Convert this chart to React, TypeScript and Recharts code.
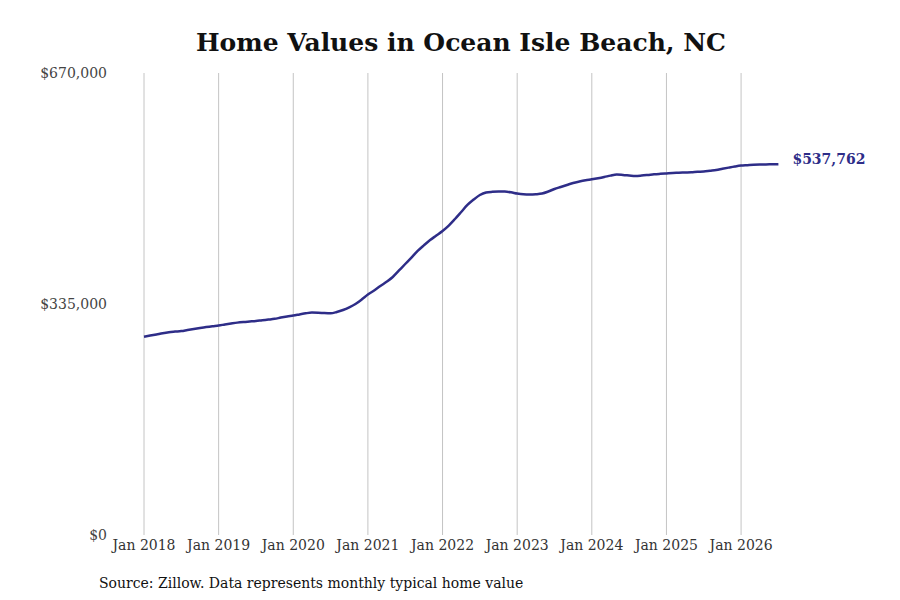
import { Line, LineChart, ReferenceLine, XAxis, YAxis } from 'recharts';

// monthly typical home value, Jan 2018 .. Jul 2026
const homeValues = [
  287600, 289200, 290900, 292700, 294100, 295000, 295800, 297300, 298700, 300200, 301600, 302800,
  303800, 305300, 306700, 308000, 308900, 309600, 310300, 311400, 312400, 313500, 315300, 316900,
  318300, 319900, 321500, 322500, 322400, 321800, 321500, 323400, 326300, 330200, 335000, 341500,
  348800, 354600, 361100, 367200, 374200, 383600, 393000, 402400, 411900, 420100, 427800, 434300,
  440900, 448800, 458300, 468400, 478600, 486500, 493100, 496700, 497700, 498100, 498000, 497000,
  495200, 494100, 493800, 494200, 495200, 498100, 501800, 504700, 507600, 510500, 512600, 514400,
  515800, 517400, 519200, 521200, 522800, 522200, 521400, 520600, 521200, 522100, 523100, 523800,
  524400, 525000, 525300, 525700, 526100, 526700, 527100, 528200, 529300, 531100, 532800, 534400,
  535700, 536300, 536900, 537300, 537400, 537600, 537762,
];

const tickMonths = [0, 12, 24, 36, 48, 60, 72, 84, 96];
const tickLabels = ['Jan 2018', 'Jan 2019', 'Jan 2020', 'Jan 2021', 'Jan 2022', 'Jan 2023', 'Jan 2024', 'Jan 2025', 'Jan 2026'];
const yTicks = [0, 335000, 670000];

const data = homeValues.map((value, m) => ({ m, value }));
const lastIndex = data.length - 1;

const FONT = '"DejaVu Serif", serif';
const LINE = '#2e2d88';

const money = (v: number) => '$' + v.toLocaleString('en-US');

const YTick = (props: any) => {
  const { y, payload } = props;
  return (
    <text x={107} y={y} dy={5} textAnchor="end" fill="#444" fontSize={14} fontFamily={FONT}>
      {money(payload.value)}
    </text>
  );
};

const EndLabel = (props: any) => {
  const { x, y, index } = props;
  if (index !== lastIndex) return null;
  return (
    <text x={x + 14} y={y} dy={0} fill={LINE} fontSize={14} fontWeight="bold" fontFamily={FONT}>
      {money(homeValues[lastIndex])}
    </text>
  );
};

export default function App() {
  return (
    <div style={{ position: 'absolute', left: 0, top: 0, width: 900, height: 600, background: '#fff', fontFamily: FONT }}>
      <div style={{ position: 'absolute', left: 0, top: 28, width: 922, textAlign: 'center', fontSize: 25, fontWeight: 'bold', color: '#111' }}>
        Home Values in Ocean Isle Beach, NC
      </div>
      <LineChart width={900} height={600} data={data} margin={{ top: 73, right: 121.6, bottom: 35, left: 0 }}>
        <XAxis
          dataKey="m"
          type="number"
          domain={[0, lastIndex]}
          ticks={tickMonths}
          tickFormatter={(m: number) => tickLabels[tickMonths.indexOf(m)]}
          axisLine={false}
          tickLine={false}
          height={30}
          dy={-3}
          tick={{ fill: '#333', fontSize: 14, fontFamily: FONT }}
          interval={0}
        />
        <YAxis
          domain={[0, 670000]}
          ticks={yTicks}
          width={144}
          axisLine={false}
          tickLine={false}
          tick={<YTick />}
        />
        {tickMonths.map((m) => (
          <ReferenceLine key={m} x={m} stroke="#c4c4c4" strokeWidth={1} />
        ))}
        <Line
          type="monotone"
          dataKey="value"
          stroke={LINE}
          strokeWidth={2.5}
          dot={false}
          label={<EndLabel />}
          isAnimationActive={false}
        />
      </LineChart>
      <div style={{ position: 'absolute', left: 99, top: 575, fontSize: 14, color: '#111' }}>
        Source: Zillow. Data represents monthly typical home value
      </div>
    </div>
  );
}
